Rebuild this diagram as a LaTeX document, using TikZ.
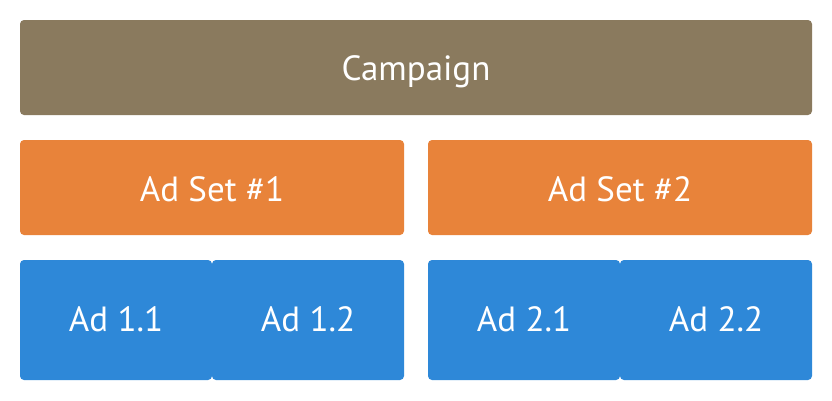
\documentclass[tikz,border=0pt]{standalone}
\usepackage{fontspec}
\setmainfont{PT Sans}
\definecolor{campc}{HTML}{8A7A5E}
\definecolor{setc}{HTML}{E8833A}
\definecolor{adc}{HTML}{2E88D8}
\tikzset{
  box/.style={rounded corners=4pt},
  lbl/.style={inner sep=0pt, anchor=base, text=white, font=\fontsize{35}{40}\selectfont}
}
\begin{document}
\begin{tikzpicture}[x=1pt,y=-1pt]
\useasboundingbox (0,0) rectangle (832,400);
\fill[white] (0,0) rectangle (832,400);
\fill[campc, box] (20,20) rectangle (812,115);
\node[lbl] (camp) at (416,80.5) {Campaign};
\fill[setc, box] (20,140) rectangle (404,235);
\node[lbl] (set1) at (212,201.5) {Ad Set \#1};
\fill[setc, box] (428,140) rectangle (812,235);
\node[lbl] (set2) at (620,201.5) {Ad Set \#2};
\fill[adc, box] (20,260) rectangle (212,380);
\node[lbl] (a11) at (116,331.5) {Ad 1.1};
\fill[adc, box] (212,260) rectangle (404,380);
\node[lbl] (a12) at (308,331.5) {Ad 1.2};
\fill[adc, box] (428,260) rectangle (620,380);
\node[lbl] (a21) at (524,331.5) {Ad 2.1};
\fill[adc, box] (620,260) rectangle (812,380);
\node[lbl] (a22) at (716,331.5) {Ad 2.2};
\end{tikzpicture}
\end{document}
